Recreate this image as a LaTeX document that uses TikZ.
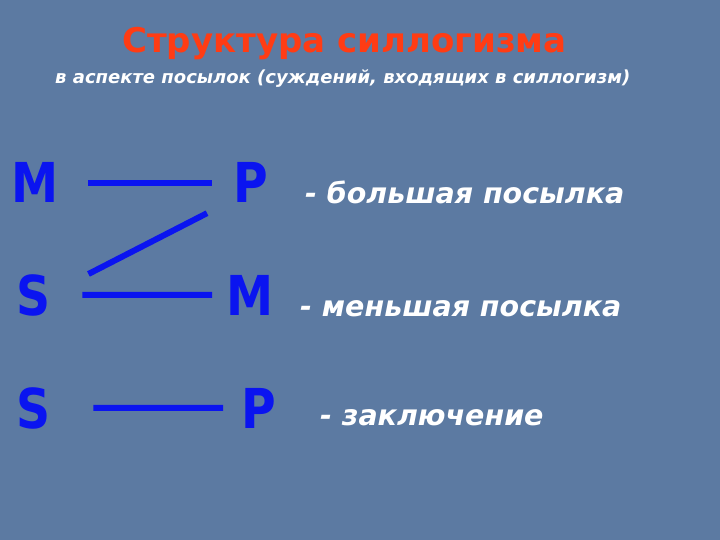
\documentclass[tikz,border=0pt]{standalone}
\usepackage{fontspec}
\setmainfont{DejaVu Sans}
\usepackage{graphicx}
\usepackage{tikz}
\usetikzlibrary{positioning}
\definecolor{slide}{RGB}{92,122,162}
\definecolor{titlered}{RGB}{255,60,20}
\definecolor{termblue}{RGB}{10,20,240}
\newcommand{\termletter}[1]{\scalebox{0.86}[1]{#1}}

\begin{document}
\begin{tikzpicture}[x=1pt, y=-1pt,
    term/.style={inner sep=0pt, anchor=base west, text=termblue, font=\bfseries\fontsize{55}{55}\selectfont},
    remark/.style={inner sep=0pt, anchor=base west, text=white, font=\bfseries\itshape\fontsize{28.5}{28.5}\selectfont},
    link/.style={termblue, line width=6pt}]
    \fill[slide] (0,0) rectangle (720,540);
    \useasboundingbox (0,0) rectangle (720,540);
    % headings
    \node[inner sep=0pt, anchor=base west, text=titlered, font=\bfseries\fontsize{34}{34}\selectfont] (title) at (122,53) {Структура силлогизма};
    \node[inner sep=0pt, anchor=base west, text=white, font=\bfseries\itshape\fontsize{18}{18}\selectfont] (sub) at (55,84) {в аспекте посылок (суждений, входящих в силлогизм)};
    % terms
    \node[term] (m1) at (11,203) {\termletter{M}};
    \node[term] (p1) at (233,203) {\termletter{P}};
    \node[term] (s1) at (16,315) {\termletter{S}};
    \node[term] (m2) at (226,315) {\termletter{M}};
    \node[term] (s2) at (16,428) {\termletter{S}};
    \node[term] (p2) at (241,428) {\termletter{P}};
    \draw[link, shorten <=30pt, shorten >=21pt] (m1) -- (p1);
    \draw[link, shorten <=32pt, shorten >=14pt] (s1) -- (m2);
    \draw[link, shorten <=43pt, shorten >=18pt] (s2) -- (p2);
    \draw[link] ([xshift=38pt]s1.north east) -- ([xshift=-26pt, yshift=-10pt]p1.south west);
    % premises
    \node[remark] (major) at (305,204) {- большая посылка};
    \node[remark] (minor) at (300,316) {- меньшая посылка};
    \node[remark] (concl) at (320,425) {- заключение};
\end{tikzpicture}
\end{document}
